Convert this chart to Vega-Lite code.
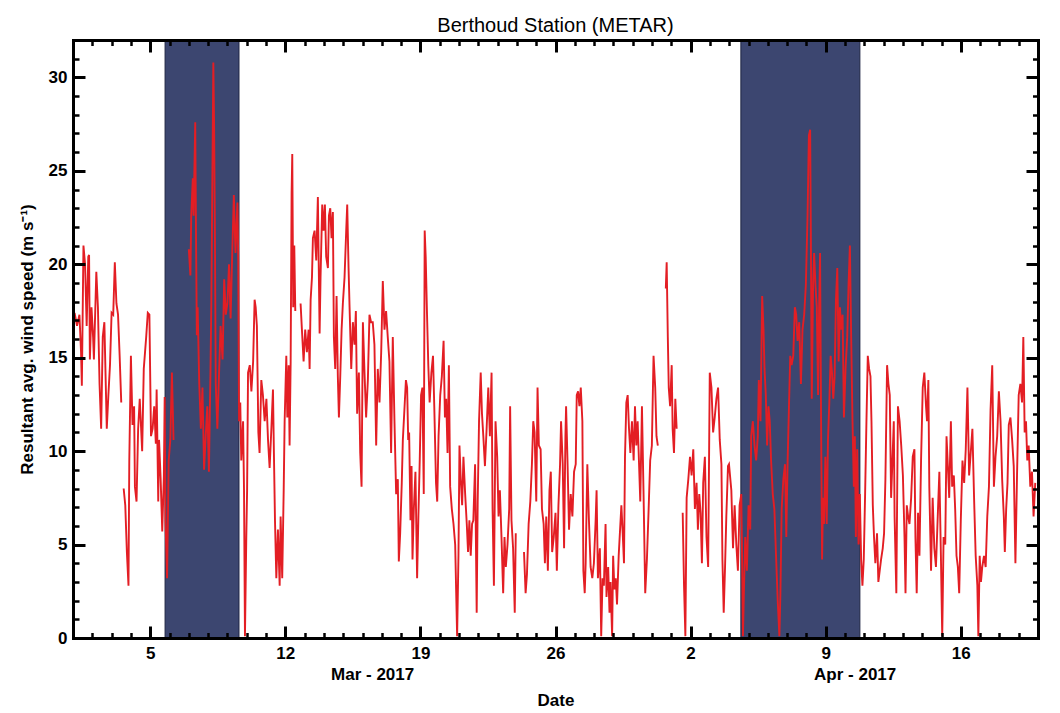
{
"$schema": "https://vega.github.io/schema/vega-lite/v6.json",
"width": 965, "height": 598,
"autosize": {"type": "none"},
"padding": {"left": 73, "top": 40, "right": 22, "bottom": 75},
"background": "white",
"title": {"text": "Berthoud Station (METAR)", "font": "Liberation Sans", "fontSize": 20, "fontWeight": "normal", "color": "black", "offset": 3},
"config": {"view": {"stroke": null}, "axis": {"labelFont": "Liberation Sans", "titleFont": "Liberation Sans", "labelColor": "black", "titleColor": "black", "tickColor": "black", "domainColor": "black", "grid": false}},
"resolve": {"axis": {"x": "independent", "y": "independent"}},
"datasets": {
"shade": [{"start": "2017-03-05T18:30", "end": "2017-03-09T14:25"}, {"start": "2017-04-04T14:30", "end": "2017-04-10T18:30"}],
"wind": [
{"t":"2017-03-01T02:00","v":17.4},{"t":"2017-03-01T05:00","v":16.7},{"t":"2017-03-01T08:00","v":17.3},{"t":"2017-03-01T10:00","v":15.3},{"t":"2017-03-01T11:00","v":13.5},{"t":"2017-03-01T13:00","v":21.0},{"t":"2017-03-01T15:00","v":20.0},{"t":"2017-03-01T17:00","v":16.7},{"t":"2017-03-01T19:00","v":20.4},{"t":"2017-03-01T20:00","v":20.5},{"t":"2017-03-01T21:00","v":14.9},{"t":"2017-03-01T23:00","v":17.7},
{"t":"2017-03-02T01:00","v":16.1},{"t":"2017-03-02T02:00","v":14.9},{"t":"2017-03-02T05:00","v":19.6},{"t":"2017-03-02T07:00","v":17.7},{"t":"2017-03-02T09:00","v":13.6},{"t":"2017-03-02T11:00","v":11.2},{"t":"2017-03-02T13:00","v":16.1},{"t":"2017-03-02T15:00","v":16.9},{"t":"2017-03-02T18:00","v":11.2},{"t":"2017-03-02T20:00","v":13.0},{"t":"2017-03-02T22:00","v":14.6},
{"t":"2017-03-03T00:00","v":17.4},{"t":"2017-03-03T02:00","v":17.3},{"t":"2017-03-03T04:00","v":20.1},{"t":"2017-03-03T06:00","v":17.9},{"t":"2017-03-03T08:00","v":17.3},{"t":"2017-03-03T10:00","v":15.1},{"t":"2017-03-03T12:00","v":12.6},{"t":"2017-03-03T13:30","v":null},{"t":"2017-03-03T15:00","v":8.0},{"t":"2017-03-03T17:00","v":7.1},{"t":"2017-03-03T19:00","v":4.6},{"t":"2017-03-03T21:00","v":2.8},{"t":"2017-03-03T22:00","v":9.5},
{"t":"2017-03-04T00:00","v":15.1},{"t":"2017-03-04T02:00","v":11.4},{"t":"2017-03-04T04:00","v":12.4},{"t":"2017-03-04T05:00","v":8.1},{"t":"2017-03-04T07:00","v":7.3},{"t":"2017-03-04T09:00","v":11.2},{"t":"2017-03-04T11:00","v":12.8},{"t":"2017-03-04T14:00","v":10.0},{"t":"2017-03-04T16:00","v":14.4},{"t":"2017-03-04T19:00","v":16.1},{"t":"2017-03-04T21:00","v":17.4},{"t":"2017-03-04T23:00","v":17.3},
{"t":"2017-03-05T01:00","v":10.8},{"t":"2017-03-05T03:00","v":11.2},{"t":"2017-03-05T05:00","v":12.4},{"t":"2017-03-05T07:00","v":10.4},{"t":"2017-03-05T08:00","v":13.3},{"t":"2017-03-05T10:00","v":7.3},{"t":"2017-03-05T11:00","v":10.6},{"t":"2017-03-05T13:00","v":8.5},{"t":"2017-03-05T15:00","v":5.7},{"t":"2017-03-05T17:00","v":8.7},{"t":"2017-03-05T18:00","v":12.9},{"t":"2017-03-05T19:00","v":6.3},{"t":"2017-03-05T21:00","v":3.2},{"t":"2017-03-05T23:00","v":9.5},
{"t":"2017-03-06T01:00","v":10.6},{"t":"2017-03-06T03:00","v":14.2},{"t":"2017-03-06T05:00","v":10.6},{"t":"2017-03-06T12:00","v":null},
{"t":"2017-03-07T00:00","v":20.8},{"t":"2017-03-07T02:00","v":19.4},{"t":"2017-03-07T03:00","v":22.6},{"t":"2017-03-07T05:00","v":24.6},{"t":"2017-03-07T06:00","v":22.6},{"t":"2017-03-07T08:00","v":27.6},{"t":"2017-03-07T09:00","v":21.4},{"t":"2017-03-07T10:00","v":16.2},{"t":"2017-03-07T11:00","v":17.7},{"t":"2017-03-07T13:00","v":13.6},{"t":"2017-03-07T15:00","v":11.2},{"t":"2017-03-07T17:00","v":13.4},{"t":"2017-03-07T19:00","v":9.0},{"t":"2017-03-07T21:00","v":10.8},{"t":"2017-03-07T23:00","v":12.4},
{"t":"2017-03-08T01:00","v":8.9},{"t":"2017-03-08T03:00","v":14.4},{"t":"2017-03-08T04:00","v":17.9},{"t":"2017-03-08T06:30","v":30.8},{"t":"2017-03-08T07:30","v":27.3},{"t":"2017-03-08T08:30","v":21.4},{"t":"2017-03-08T09:30","v":13.6},{"t":"2017-03-08T11:30","v":11.2},{"t":"2017-03-08T13:30","v":14.0},{"t":"2017-03-08T15:30","v":16.7},{"t":"2017-03-08T18:00","v":14.9},{"t":"2017-03-08T20:00","v":19.2},{"t":"2017-03-08T22:00","v":17.3},
{"t":"2017-03-09T00:00","v":17.9},{"t":"2017-03-09T02:00","v":20.0},{"t":"2017-03-09T04:00","v":17.1},{"t":"2017-03-09T06:00","v":20.6},{"t":"2017-03-09T08:00","v":23.7},{"t":"2017-03-09T10:00","v":20.6},{"t":"2017-03-09T12:30","v":23.3},{"t":"2017-03-09T13:30","v":20.2},{"t":"2017-03-09T14:30","v":11.6},{"t":"2017-03-09T16:00","v":12.6},{"t":"2017-03-09T17:15","v":9.5},{"t":"2017-03-09T19:30","v":11.6},{"t":"2017-03-09T20:40","v":7.9},{"t":"2017-03-09T21:50","v":0.1},{"t":"2017-03-09T23:30","v":5.4},
{"t":"2017-03-10T00:30","v":7.9},{"t":"2017-03-10T01:40","v":14.2},{"t":"2017-03-10T03:50","v":14.6},{"t":"2017-03-10T05:50","v":13.2},{"t":"2017-03-10T08:00","v":14.8},{"t":"2017-03-10T09:50","v":18.1},{"t":"2017-03-10T11:10","v":17.7},{"t":"2017-03-10T12:40","v":16.7},{"t":"2017-03-10T14:30","v":11.0},{"t":"2017-03-10T16:00","v":9.9},{"t":"2017-03-10T18:10","v":13.8},{"t":"2017-03-10T20:10","v":13.0},{"t":"2017-03-10T22:20","v":11.6},
{"t":"2017-03-11T00:30","v":12.8},{"t":"2017-03-11T02:30","v":10.6},{"t":"2017-03-11T04:30","v":9.1},{"t":"2017-03-11T06:40","v":11.2},{"t":"2017-03-11T08:40","v":13.3},{"t":"2017-03-11T09:50","v":9.9},{"t":"2017-03-11T11:10","v":6.3},{"t":"2017-03-11T12:50","v":3.2},{"t":"2017-03-11T14:50","v":5.8},{"t":"2017-03-11T17:00","v":2.8},{"t":"2017-03-11T18:10","v":6.5},{"t":"2017-03-11T20:10","v":3.2},{"t":"2017-03-11T22:00","v":7.9},{"t":"2017-03-11T23:10","v":11.6},
{"t":"2017-03-12T01:15","v":15.1},{"t":"2017-03-12T02:30","v":11.8},{"t":"2017-03-12T04:10","v":14.6},{"t":"2017-03-12T05:20","v":10.3},{"t":"2017-03-12T06:40","v":14.8},{"t":"2017-03-12T07:50","v":23.8},{"t":"2017-03-12T08:40","v":25.9},{"t":"2017-03-12T09:50","v":17.7},{"t":"2017-03-12T11:10","v":21.0},{"t":"2017-03-12T12:25","v":17.5},{"t":"2017-03-12T13:30","v":null},{"t":"2017-03-12T19:00","v":17.9},{"t":"2017-03-12T20:40","v":16.5},{"t":"2017-03-12T22:45","v":14.8},
{"t":"2017-03-13T00:45","v":16.5},{"t":"2017-03-13T02:50","v":15.3},{"t":"2017-03-13T05:00","v":16.5},{"t":"2017-03-13T06:15","v":14.4},{"t":"2017-03-13T07:30","v":18.1},{"t":"2017-03-13T09:10","v":19.3},{"t":"2017-03-13T10:20","v":21.4},{"t":"2017-03-13T12:25","v":21.8},{"t":"2017-03-13T14:30","v":20.2},{"t":"2017-03-13T16:30","v":23.6},{"t":"2017-03-13T18:40","v":16.3},{"t":"2017-03-13T19:50","v":19.3},{"t":"2017-03-13T21:55","v":23.2},{"t":"2017-03-13T23:35","v":21.8},
{"t":"2017-03-14T01:15","v":23.2},{"t":"2017-03-14T02:50","v":20.4},{"t":"2017-03-14T05:00","v":19.8},{"t":"2017-03-14T06:15","v":22.6},{"t":"2017-03-14T07:55","v":23.0},{"t":"2017-03-14T09:30","v":21.4},{"t":"2017-03-14T11:10","v":22.8},{"t":"2017-03-14T12:25","v":16.1},{"t":"2017-03-14T14:05","v":14.4},{"t":"2017-03-14T15:45","v":18.3},{"t":"2017-03-14T17:20","v":14.0},{"t":"2017-03-14T18:40","v":11.8},{"t":"2017-03-14T20:20","v":14.0},{"t":"2017-03-14T22:00","v":16.5},{"t":"2017-03-14T23:35","v":17.9},
{"t":"2017-03-15T01:40","v":19.3},{"t":"2017-03-15T03:45","v":21.8},{"t":"2017-03-15T05:00","v":23.2},{"t":"2017-03-15T06:40","v":19.8},{"t":"2017-03-15T07:55","v":17.7},{"t":"2017-03-15T10:00","v":14.4},{"t":"2017-03-15T12:00","v":16.9},{"t":"2017-03-15T14:05","v":15.7},{"t":"2017-03-15T15:45","v":17.5},{"t":"2017-03-15T17:20","v":12.0},{"t":"2017-03-15T19:30","v":14.2},{"t":"2017-03-15T21:10","v":9.9},{"t":"2017-03-15T22:50","v":8.1},
{"t":"2017-03-16T00:30","v":16.9},{"t":"2017-03-16T02:30","v":14.2},{"t":"2017-03-16T04:30","v":11.8},{"t":"2017-03-16T06:40","v":13.8},{"t":"2017-03-16T08:40","v":17.3},{"t":"2017-03-16T10:40","v":16.9},{"t":"2017-03-16T12:45","v":16.9},{"t":"2017-03-16T14:50","v":15.7},{"t":"2017-03-16T17:00","v":10.3},{"t":"2017-03-16T19:00","v":14.4},{"t":"2017-03-16T21:10","v":12.6},{"t":"2017-03-16T23:15","v":15.3},
{"t":"2017-03-17T01:15","v":19.1},{"t":"2017-03-17T03:20","v":16.5},{"t":"2017-03-17T05:20","v":17.5},{"t":"2017-03-17T07:25","v":16.1},{"t":"2017-03-17T09:30","v":14.8},{"t":"2017-03-17T11:35","v":9.9},{"t":"2017-03-17T13:40","v":16.1},{"t":"2017-03-17T15:45","v":11.6},{"t":"2017-03-17T17:50","v":7.7},{"t":"2017-03-17T19:55","v":8.5},{"t":"2017-03-17T21:10","v":4.1},{"t":"2017-03-17T22:50","v":5.6},
{"t":"2017-03-18T00:50","v":8.3},{"t":"2017-03-18T02:10","v":10.6},{"t":"2017-03-18T04:20","v":12.4},{"t":"2017-03-18T06:00","v":13.8},{"t":"2017-03-18T07:30","v":13.4},{"t":"2017-03-18T08:50","v":10.6},{"t":"2017-03-18T10:00","v":11.0},{"t":"2017-03-18T11:40","v":6.3},{"t":"2017-03-18T13:00","v":9.2},{"t":"2017-03-18T14:10","v":4.2},{"t":"2017-03-18T15:50","v":6.9},{"t":"2017-03-18T17:50","v":8.9},{"t":"2017-03-18T19:55","v":3.2},{"t":"2017-03-18T21:30","v":6.5},{"t":"2017-03-18T23:10","v":9.5},
{"t":"2017-03-19T00:50","v":13.0},{"t":"2017-03-19T02:30","v":13.4},{"t":"2017-03-19T04:10","v":7.7},{"t":"2017-03-19T05:20","v":21.8},{"t":"2017-03-19T06:35","v":20.4},{"t":"2017-03-19T08:15","v":17.3},{"t":"2017-03-19T09:50","v":14.6},{"t":"2017-03-19T11:30","v":12.6},{"t":"2017-03-19T13:40","v":14.2},{"t":"2017-03-19T15:40","v":15.1},{"t":"2017-03-19T17:15","v":12.4},{"t":"2017-03-19T19:25","v":8.3},{"t":"2017-03-19T20:55","v":7.3},{"t":"2017-03-19T22:35","v":10.8},
{"t":"2017-03-20T00:40","v":13.0},{"t":"2017-03-20T02:40","v":14.0},{"t":"2017-03-20T04:50","v":15.9},{"t":"2017-03-20T06:30","v":11.8},{"t":"2017-03-20T08:05","v":12.8},{"t":"2017-03-20T09:45","v":9.9},{"t":"2017-03-20T11:25","v":14.6},{"t":"2017-03-20T13:00","v":8.1},{"t":"2017-03-20T15:05","v":6.9},{"t":"2017-03-20T17:10","v":6.1},{"t":"2017-03-20T19:15","v":5.0},{"t":"2017-03-20T20:25","v":2.6},{"t":"2017-03-20T21:40","v":0.1},{"t":"2017-03-20T23:20","v":4.4},
{"t":"2017-03-21T00:35","v":10.3},{"t":"2017-03-21T02:10","v":8.5},{"t":"2017-03-21T03:55","v":7.1},{"t":"2017-03-21T05:30","v":9.7},{"t":"2017-03-21T07:40","v":7.7},{"t":"2017-03-21T09:40","v":6.1},{"t":"2017-03-21T11:15","v":4.6},{"t":"2017-03-21T12:55","v":6.3},{"t":"2017-03-21T14:35","v":4.4},{"t":"2017-03-21T16:15","v":6.1},{"t":"2017-03-21T17:50","v":6.3},{"t":"2017-03-21T20:00","v":9.3},{"t":"2017-03-21T22:00","v":1.35},{"t":"2017-03-21T23:15","v":7.3},
{"t":"2017-03-22T00:55","v":11.6},{"t":"2017-03-22T03:00","v":14.2},{"t":"2017-03-22T04:35","v":12.0},{"t":"2017-03-22T06:15","v":10.8},{"t":"2017-03-22T08:15","v":9.2},{"t":"2017-03-22T10:20","v":11.2},{"t":"2017-03-22T12:25","v":13.4},{"t":"2017-03-22T14:25","v":10.8},{"t":"2017-03-22T16:30","v":14.2},{"t":"2017-03-22T17:45","v":6.9},{"t":"2017-03-22T19:25","v":2.8},{"t":"2017-03-22T21:25","v":11.6},{"t":"2017-03-22T23:30","v":9.7},
{"t":"2017-03-23T01:10","v":6.5},{"t":"2017-03-23T02:50","v":7.9},{"t":"2017-03-23T04:50","v":5.4},{"t":"2017-03-23T06:55","v":2.4},{"t":"2017-03-23T08:35","v":5.4},{"t":"2017-03-23T10:15","v":3.8},{"t":"2017-03-23T12:20","v":5.0},{"t":"2017-03-23T14:25","v":6.9},{"t":"2017-03-23T15:35","v":12.4},{"t":"2017-03-23T17:15","v":6.3},{"t":"2017-03-23T19:15","v":4.8},{"t":"2017-03-23T21:20","v":1.35},{"t":"2017-03-23T22:35","v":5.6},{"t":"2017-03-23T23:30","v":null},
{"t":"2017-03-24T08:50","v":4.6},{"t":"2017-03-24T10:50","v":2.4},{"t":"2017-03-24T12:30","v":3.4},{"t":"2017-03-24T14:35","v":6.1},{"t":"2017-03-24T16:40","v":7.3},{"t":"2017-03-24T18:40","v":9.3},{"t":"2017-03-24T20:20","v":11.6},{"t":"2017-03-24T22:00","v":11.0},
{"t":"2017-03-25T00:05","v":7.3},{"t":"2017-03-25T01:40","v":13.4},{"t":"2017-03-25T03:20","v":10.3},{"t":"2017-03-25T05:30","v":10.1},{"t":"2017-03-25T07:10","v":6.9},{"t":"2017-03-25T09:15","v":6.1},{"t":"2017-03-25T10:50","v":4.0},{"t":"2017-03-25T12:30","v":6.5},{"t":"2017-03-25T14:30","v":3.6},{"t":"2017-03-25T16:30","v":7.9},{"t":"2017-03-25T18:10","v":8.9},{"t":"2017-03-25T19:50","v":4.6},{"t":"2017-03-25T21:50","v":5.4},
{"t":"2017-03-26T00:00","v":6.7},{"t":"2017-03-26T01:40","v":3.6},{"t":"2017-03-26T03:40","v":7.1},{"t":"2017-03-26T05:40","v":9.3},{"t":"2017-03-26T06:55","v":11.6},{"t":"2017-03-26T09:00","v":9.3},{"t":"2017-03-26T10:40","v":4.8},{"t":"2017-03-26T12:20","v":10.8},{"t":"2017-03-26T13:10","v":12.4},{"t":"2017-03-26T14:55","v":9.5},{"t":"2017-03-26T16:50","v":5.8},{"t":"2017-03-26T18:55","v":7.7},{"t":"2017-03-26T21:00","v":6.5},{"t":"2017-03-26T23:05","v":8.9},
{"t":"2017-03-27T01:10","v":9.3},{"t":"2017-03-27T02:25","v":13.0},{"t":"2017-03-27T04:05","v":13.2},{"t":"2017-03-27T05:45","v":12.4},{"t":"2017-03-27T07:25","v":13.4},{"t":"2017-03-27T09:25","v":11.6},{"t":"2017-03-27T10:40","v":3.6},{"t":"2017-03-27T12:20","v":2.4},{"t":"2017-03-27T13:30","v":4.0},{"t":"2017-03-27T15:35","v":9.3},{"t":"2017-03-27T17:35","v":6.3},{"t":"2017-03-27T19:40","v":3.8},{"t":"2017-03-27T21:45","v":3.2},{"t":"2017-03-27T23:45","v":4.0},
{"t":"2017-03-28T01:55","v":6.3},{"t":"2017-03-28T03:05","v":7.9},{"t":"2017-03-28T04:45","v":3.2},{"t":"2017-03-28T07:10","v":4.8},{"t":"2017-03-28T08:50","v":0.1},{"t":"2017-03-28T10:30","v":3.2},{"t":"2017-03-28T12:10","v":2.8},{"t":"2017-03-28T14:15","v":6.1},{"t":"2017-03-28T15:25","v":2.2},{"t":"2017-03-28T17:30","v":3.8},{"t":"2017-03-28T19:10","v":1.35},{"t":"2017-03-28T20:25","v":3.0},{"t":"2017-03-28T22:25","v":0.1},{"t":"2017-03-28T23:40","v":4.4},
{"t":"2017-03-29T01:15","v":2.6},{"t":"2017-03-29T02:55","v":3.2},{"t":"2017-03-29T04:30","v":1.8},{"t":"2017-03-29T06:35","v":4.4},{"t":"2017-03-29T08:40","v":6.1},{"t":"2017-03-29T09:55","v":7.1},{"t":"2017-03-29T11:35","v":5.6},{"t":"2017-03-29T13:10","v":4.0},{"t":"2017-03-29T14:25","v":9.7},{"t":"2017-03-29T16:05","v":12.6},{"t":"2017-03-29T17:45","v":13.0},{"t":"2017-03-29T19:25","v":11.2},{"t":"2017-03-29T21:05","v":9.9},{"t":"2017-03-29T23:05","v":11.6},
{"t":"2017-03-30T01:10","v":9.5},{"t":"2017-03-30T02:50","v":12.4},{"t":"2017-03-30T04:30","v":10.3},{"t":"2017-03-30T06:10","v":11.6},{"t":"2017-03-30T07:45","v":9.5},{"t":"2017-03-30T09:25","v":7.3},{"t":"2017-03-30T11:30","v":12.4},{"t":"2017-03-30T13:25","v":7.9},{"t":"2017-03-30T15:35","v":2.4},{"t":"2017-03-30T17:40","v":4.2},{"t":"2017-03-30T19:40","v":6.7},{"t":"2017-03-30T21:45","v":9.5},{"t":"2017-03-30T23:50","v":10.3},
{"t":"2017-03-31T01:55","v":15.1},{"t":"2017-03-31T04:00","v":13.4},{"t":"2017-03-31T05:35","v":10.8},{"t":"2017-03-31T07:15","v":10.3},{"t":"2017-03-31T10:00","v":null},{"t":"2017-03-31T17:10","v":18.7},{"t":"2017-03-31T18:15","v":20.1},{"t":"2017-03-31T19:40","v":16.1},{"t":"2017-03-31T20:50","v":13.4},{"t":"2017-03-31T22:30","v":12.4},
{"t":"2017-04-01T00:30","v":14.6},{"t":"2017-04-01T01:40","v":11.2},{"t":"2017-04-01T03:20","v":9.9},{"t":"2017-04-01T05:00","v":12.8},{"t":"2017-04-01T06:40","v":11.2},{"t":"2017-04-01T09:00","v":null},{"t":"2017-04-01T14:10","v":6.7},{"t":"2017-04-01T15:50","v":2.8},{"t":"2017-04-01T17:30","v":0.1},{"t":"2017-04-01T19:05","v":7.5},{"t":"2017-04-01T21:10","v":8.5},{"t":"2017-04-01T23:15","v":9.7},
{"t":"2017-04-02T01:15","v":8.7},{"t":"2017-04-02T03:20","v":10.1},{"t":"2017-04-02T05:20","v":6.9},{"t":"2017-04-02T07:25","v":8.3},{"t":"2017-04-02T09:05","v":5.8},{"t":"2017-04-02T10:45","v":7.7},{"t":"2017-04-02T12:25","v":6.7},{"t":"2017-04-02T14:05","v":4.0},{"t":"2017-04-02T15:40","v":8.3},{"t":"2017-04-02T17:45","v":9.7},{"t":"2017-04-02T19:45","v":5.4},{"t":"2017-04-02T21:50","v":3.8},{"t":"2017-04-02T23:50","v":14.2},
{"t":"2017-04-03T01:55","v":13.4},{"t":"2017-04-03T04:00","v":11.0},{"t":"2017-04-03T06:00","v":11.8},{"t":"2017-04-03T08:05","v":12.8},{"t":"2017-04-03T10:10","v":13.4},{"t":"2017-04-03T12:15","v":10.6},{"t":"2017-04-03T14:20","v":9.3},{"t":"2017-04-03T15:35","v":4.2},{"t":"2017-04-03T17:10","v":1.35},{"t":"2017-04-03T18:50","v":3.8},{"t":"2017-04-03T20:25","v":6.5},{"t":"2017-04-03T22:30","v":9.2},{"t":"2017-04-03T23:45","v":9.3},
{"t":"2017-04-04T02:40","v":7.9},{"t":"2017-04-04T04:45","v":4.8},{"t":"2017-04-04T06:45","v":7.1},{"t":"2017-04-04T08:50","v":5.0},{"t":"2017-04-04T10:50","v":3.6},{"t":"2017-04-04T12:55","v":7.1},{"t":"2017-04-04T15:00","v":7.7},{"t":"2017-04-04T16:15","v":3.4},{"t":"2017-04-04T17:05","v":0.1},{"t":"2017-04-04T18:15","v":2.4},{"t":"2017-04-04T19:55","v":5.4},{"t":"2017-04-04T22:00","v":3.6},
{"t":"2017-04-05T00:05","v":7.1},{"t":"2017-04-05T02:10","v":5.8},{"t":"2017-04-05T03:20","v":10.8},{"t":"2017-04-05T05:25","v":11.6},{"t":"2017-04-05T07:30","v":10.3},{"t":"2017-04-05T09:30","v":9.5},{"t":"2017-04-05T11:35","v":10.8},{"t":"2017-04-05T12:50","v":13.8},{"t":"2017-04-05T14:55","v":11.6},{"t":"2017-04-05T17:00","v":18.3},{"t":"2017-04-05T18:40","v":16.5},{"t":"2017-04-05T19:55","v":14.4},{"t":"2017-04-05T21:30","v":13.0},{"t":"2017-04-05T23:10","v":10.3},
{"t":"2017-04-06T00:50","v":12.4},{"t":"2017-04-06T02:25","v":11.6},{"t":"2017-04-06T04:05","v":9.5},{"t":"2017-04-06T06:10","v":7.7},{"t":"2017-04-06T08:10","v":6.9},{"t":"2017-04-06T10:15","v":4.4},{"t":"2017-04-06T12:20","v":2.0},{"t":"2017-04-06T14:25","v":0.1},{"t":"2017-04-06T15:40","v":2.4},{"t":"2017-04-06T17:15","v":6.9},{"t":"2017-04-06T19:20","v":8.5},{"t":"2017-04-06T21:25","v":9.3},{"t":"2017-04-06T23:00","v":5.4},
{"t":"2017-04-07T00:40","v":9.5},{"t":"2017-04-07T02:20","v":12.4},{"t":"2017-04-07T03:55","v":15.1},{"t":"2017-04-07T05:35","v":14.6},{"t":"2017-04-07T07:40","v":15.1},{"t":"2017-04-07T09:40","v":17.7},{"t":"2017-04-07T11:20","v":17.3},{"t":"2017-04-07T13:00","v":15.9},{"t":"2017-04-07T15:05","v":16.9},{"t":"2017-04-07T17:10","v":13.6},{"t":"2017-04-07T19:10","v":16.5},{"t":"2017-04-07T21:15","v":17.3},{"t":"2017-04-07T23:20","v":18.9},
{"t":"2017-04-08T01:25","v":22.6},{"t":"2017-04-08T03:05","v":26.9},{"t":"2017-04-08T04:40","v":27.2},{"t":"2017-04-08T05:30","v":21.8},{"t":"2017-04-08T06:40","v":12.8},{"t":"2017-04-08T08:20","v":18.9},{"t":"2017-04-08T09:35","v":20.6},{"t":"2017-04-08T11:15","v":18.9},{"t":"2017-04-08T12:55","v":17.7},{"t":"2017-04-08T14:30","v":13.0},{"t":"2017-04-08T15:45","v":17.5},{"t":"2017-04-08T17:00","v":20.6},{"t":"2017-04-08T18:15","v":11.6},{"t":"2017-04-08T19:30","v":4.2},{"t":"2017-04-08T20:40","v":7.5},{"t":"2017-04-08T21:55","v":6.1},{"t":"2017-04-08T23:35","v":9.7},
{"t":"2017-04-09T01:15","v":6.1},{"t":"2017-04-09T02:50","v":10.6},{"t":"2017-04-09T04:30","v":12.6},{"t":"2017-04-09T06:10","v":15.1},{"t":"2017-04-09T07:50","v":14.2},{"t":"2017-04-09T09:25","v":12.8},{"t":"2017-04-09T11:05","v":14.0},{"t":"2017-04-09T12:45","v":18.1},{"t":"2017-04-09T14:25","v":19.8},{"t":"2017-04-09T16:05","v":14.8},{"t":"2017-04-09T17:40","v":17.7},{"t":"2017-04-09T19:20","v":16.5},{"t":"2017-04-09T21:00","v":17.3},{"t":"2017-04-09T22:40","v":11.8},
{"t":"2017-04-10T00:40","v":14.4},{"t":"2017-04-10T02:45","v":16.1},{"t":"2017-04-10T04:25","v":18.9},{"t":"2017-04-10T06:05","v":21.0},{"t":"2017-04-10T07:40","v":16.1},{"t":"2017-04-10T09:20","v":11.6},{"t":"2017-04-10T11:00","v":8.1},{"t":"2017-04-10T12:15","v":10.8},{"t":"2017-04-10T13:30","v":5.4},{"t":"2017-04-10T15:10","v":10.1},{"t":"2017-04-10T16:50","v":5.0},{"t":"2017-04-10T18:25","v":7.7},{"t":"2017-04-10T20:05","v":4.2},{"t":"2017-04-10T21:40","v":2.8},{"t":"2017-04-10T23:20","v":4.2},
{"t":"2017-04-11T01:00","v":7.7},{"t":"2017-04-11T02:40","v":11.6},{"t":"2017-04-11T04:20","v":15.1},{"t":"2017-04-11T06:00","v":14.4},{"t":"2017-04-11T07:40","v":14.0},{"t":"2017-04-11T08:55","v":11.6},{"t":"2017-04-11T10:35","v":7.1},{"t":"2017-04-11T12:05","v":5.4},{"t":"2017-04-11T13:45","v":4.0},{"t":"2017-04-11T15:50","v":5.6},{"t":"2017-04-11T17:30","v":3.0},{"t":"2017-04-11T19:10","v":3.6},{"t":"2017-04-11T20:50","v":4.2},{"t":"2017-04-11T22:55","v":4.8},
{"t":"2017-04-12T00:35","v":5.6},{"t":"2017-04-12T02:15","v":8.5},{"t":"2017-04-12T04:20","v":14.6},{"t":"2017-04-12T06:00","v":13.6},{"t":"2017-04-12T07:40","v":13.0},{"t":"2017-04-12T09:20","v":7.5},{"t":"2017-04-12T11:00","v":9.5},{"t":"2017-04-12T12:40","v":11.6},{"t":"2017-04-12T13:40","v":6.5},{"t":"2017-04-12T15:50","v":2.4},{"t":"2017-04-12T17:50","v":12.4},{"t":"2017-04-12T19:55","v":11.6},{"t":"2017-04-12T21:55","v":10.3},
{"t":"2017-04-13T00:00","v":8.7},{"t":"2017-04-13T02:00","v":5.4},{"t":"2017-04-13T03:15","v":2.4},{"t":"2017-04-13T04:50","v":7.1},{"t":"2017-04-13T06:30","v":6.5},{"t":"2017-04-13T08:10","v":6.1},{"t":"2017-04-13T10:15","v":7.5},{"t":"2017-04-13T12:15","v":9.7},{"t":"2017-04-13T14:20","v":10.1},{"t":"2017-04-13T15:35","v":5.4},{"t":"2017-04-13T17:10","v":2.4},{"t":"2017-04-13T18:50","v":6.7},{"t":"2017-04-13T20:35","v":4.4},{"t":"2017-04-13T22:35","v":9.5},
{"t":"2017-04-14T00:40","v":13.4},{"t":"2017-04-14T02:40","v":14.2},{"t":"2017-04-14T04:45","v":12.4},{"t":"2017-04-14T06:00","v":11.6},{"t":"2017-04-14T07:40","v":13.8},{"t":"2017-04-14T08:50","v":8.1},{"t":"2017-04-14T11:00","v":3.6},{"t":"2017-04-14T13:00","v":7.5},{"t":"2017-04-14T15:05","v":4.8},{"t":"2017-04-14T17:05","v":3.8},{"t":"2017-04-14T19:10","v":6.3},{"t":"2017-04-14T21:20","v":8.9},{"t":"2017-04-14T23:15","v":4.4},
{"t":"2017-04-15T00:55","v":0.1},{"t":"2017-04-15T02:35","v":5.4},{"t":"2017-04-15T04:40","v":5.0},{"t":"2017-04-15T06:15","v":10.8},{"t":"2017-04-15T07:55","v":9.2},{"t":"2017-04-15T09:35","v":7.5},{"t":"2017-04-15T11:40","v":11.6},{"t":"2017-04-15T13:15","v":8.1},{"t":"2017-04-15T15:20","v":8.7},{"t":"2017-04-15T17:00","v":6.9},{"t":"2017-04-15T18:40","v":4.4},{"t":"2017-04-15T20:20","v":3.8},{"t":"2017-04-15T22:00","v":2.4},
{"t":"2017-04-16T00:00","v":6.3},{"t":"2017-04-16T02:05","v":9.5},{"t":"2017-04-16T04:10","v":8.3},{"t":"2017-04-16T06:10","v":10.1},{"t":"2017-04-16T08:15","v":13.4},{"t":"2017-04-16T10:20","v":8.7},{"t":"2017-04-16T12:20","v":9.9},{"t":"2017-04-16T14:25","v":11.2},{"t":"2017-04-16T16:30","v":7.5},{"t":"2017-04-16T18:30","v":4.4},{"t":"2017-04-16T20:35","v":2.8},{"t":"2017-04-16T21:50","v":0.1},{"t":"2017-04-16T23:30","v":4.4},
{"t":"2017-04-17T01:05","v":3.0},{"t":"2017-04-17T02:40","v":3.8},{"t":"2017-04-17T04:50","v":4.4},{"t":"2017-04-17T06:55","v":3.8},{"t":"2017-04-17T08:55","v":6.5},{"t":"2017-04-17T11:00","v":8.1},{"t":"2017-04-17T13:00","v":12.2},{"t":"2017-04-17T15:05","v":14.6},{"t":"2017-04-17T17:10","v":8.1},{"t":"2017-04-17T19:10","v":9.7},{"t":"2017-04-17T21:15","v":10.8},{"t":"2017-04-17T23:20","v":13.2},
{"t":"2017-04-18T01:25","v":11.6},{"t":"2017-04-18T03:25","v":8.5},{"t":"2017-04-18T05:30","v":6.5},{"t":"2017-04-18T06:45","v":4.6},{"t":"2017-04-18T08:25","v":6.9},{"t":"2017-04-18T10:05","v":8.3},{"t":"2017-04-18T11:40","v":11.4},{"t":"2017-04-18T13:45","v":11.8},{"t":"2017-04-18T15:50","v":10.6},{"t":"2017-04-18T17:50","v":9.2},{"t":"2017-04-18T19:55","v":4.0},{"t":"2017-04-18T21:55","v":8.7},
{"t":"2017-04-19T00:00","v":13.0},{"t":"2017-04-19T02:05","v":13.6},{"t":"2017-04-19T04:10","v":12.6},{"t":"2017-04-19T05:45","v":16.1},{"t":"2017-04-19T07:25","v":11.0},{"t":"2017-04-19T09:05","v":11.6},{"t":"2017-04-19T10:40","v":9.5},{"t":"2017-04-19T12:25","v":10.3},{"t":"2017-04-19T14:25","v":8.1},{"t":"2017-04-19T16:30","v":8.9},{"t":"2017-04-19T18:30","v":6.5},{"t":"2017-04-19T20:35","v":8.3}
]
},
"layer": [
{
"data": {"name": "shade"},
"mark": {"type": "rect", "fill": "#3c4670", "stroke": "#1e2442", "strokeWidth": 1, "clip": true},
"encoding": {
"x": {"field": "start", "type": "temporal", "scale": {"domain": [{"year": 2017, "month": 3, "date": 1}, {"year": 2017, "month": 4, "date": 20}]},
"axis": {"orient": "bottom", "values": [{"year": 2017, "month": 3, "date": 5}, {"year": 2017, "month": 3, "date": 12}, {"year": 2017, "month": 3, "date": 19}, {"year": 2017, "month": 3, "date": 26}, {"year": 2017, "month": 4, "date": 2}, {"year": 2017, "month": 4, "date": 9}, {"year": 2017, "month": 4, "date": 16}], "labelExpr": "date(datum.value)", "ticks": false, "domain": false, "labelFontSize": 17, "labelFontWeight": "bold", "labelPadding": 7, "labelFlush": false, "labelOverlap": false, "title": null, "zindex": 1}},
"x2": {"field": "end"},
"y": {"datum": 0, "type": "quantitative", "scale": {"domain": [0, 32], "nice": false, "zero": false},
"axis": {"orient": "left", "values": [0, 5, 10, 15, 20, 25, 30], "ticks": false, "domain": false, "labelFontSize": 17, "labelFontWeight": "bold", "labelPadding": 6, "title": "Resultant avg. wind speed (m s⁻¹)", "titleFontSize": 17, "titleFontWeight": "bold", "titlePadding": 12, "zindex": 1}},
"y2": {"datum": 32}
}
},
{
"data": {"name": "wind"},
"mark": {"type": "line", "color": "#e31e24", "strokeWidth": 1.9, "clip": true},
"encoding": {
"x": {"field": "t", "type": "temporal", "scale": {"domain": [{"year": 2017, "month": 3, "date": 1}, {"year": 2017, "month": 4, "date": 20}]},
"axis": {"orient": "bottom", "values": [{"year": 2017, "month": 3, "date": 16, "hours": 12}, {"year": 2017, "month": 4, "date": 10, "hours": 12}], "labelExpr": "timeFormat(datum.value, '%b - %Y')", "ticks": false, "domain": false, "labelFontSize": 17, "labelFontWeight": "bold", "labelPadding": 28, "labelFlush": false, "labelOverlap": false, "title": "Date", "titleFontSize": 17, "titleFontWeight": "bold", "titlePadding": 10, "zindex": 1}},
"y": {"field": "v", "type": "quantitative", "scale": {"domain": [0, 32], "nice": false, "zero": false},
"axis": {"orient": "left", "values": [0, 5, 10, 15, 20, 25, 30], "labels": false, "tickSize": -12, "tickWidth": 3, "domain": true, "domainWidth": 3, "domainCap": "square", "title": null, "zindex": 1}}
}
},
{
"data": {"name": "shade"},
"mark": {"type": "point", "opacity": 0},
"encoding": {
"x": {"field": "start", "type": "temporal", "scale": {"domain": [{"year": 2017, "month": 3, "date": 1}, {"year": 2017, "month": 4, "date": 20}]},
"axis": {"orient": "bottom", "values": [{"year": 2017, "month": 3, "date": 5}, {"year": 2017, "month": 3, "date": 12}, {"year": 2017, "month": 3, "date": 19}, {"year": 2017, "month": 3, "date": 26}, {"year": 2017, "month": 4, "date": 2}, {"year": 2017, "month": 4, "date": 9}, {"year": 2017, "month": 4, "date": 16}], "labels": false, "tickSize": -12, "tickWidth": 3, "domain": true, "domainWidth": 3, "domainCap": "square", "title": null, "zindex": 1}},
"y": {"datum": 0, "type": "quantitative", "scale": {"domain": [0, 32], "nice": false, "zero": false},
"axis": {"orient": "left", "values": [0,1,2,3,4,5,6,7,8,9,10,11,12,13,14,15,16,17,18,19,20,21,22,23,24,25,26,27,28,29,30,31,32], "labels": false, "tickSize": -6, "tickWidth": 2.5, "domain": false, "title": null, "zindex": 1}}
}
},
{
"data": {"name": "shade"},
"mark": {"type": "point", "opacity": 0},
"encoding": {
"x": {"field": "start", "type": "temporal", "scale": {"domain": [{"year": 2017, "month": 3, "date": 1}, {"year": 2017, "month": 4, "date": 20}]},
"axis": {"orient": "bottom", "tickCount": {"interval": "day", "step": 1}, "labels": false, "tickSize": -5.5, "tickWidth": 2.5, "domain": false, "title": null, "zindex": 1}},
"y": {"datum": 0, "type": "quantitative", "scale": {"domain": [0, 32], "nice": false, "zero": false},
"axis": {"orient": "right", "values": [0, 5, 10, 15, 20, 25, 30], "labels": false, "tickSize": -12, "tickWidth": 3, "domain": true, "domainWidth": 3, "domainCap": "square", "title": null, "zindex": 1}}
}
},
{
"data": {"name": "shade"},
"mark": {"type": "point", "opacity": 0},
"encoding": {
"x": {"field": "start", "type": "temporal", "scale": {"domain": [{"year": 2017, "month": 3, "date": 1}, {"year": 2017, "month": 4, "date": 20}]},
"axis": {"orient": "top", "values": [{"year": 2017, "month": 3, "date": 5}, {"year": 2017, "month": 3, "date": 12}, {"year": 2017, "month": 3, "date": 19}, {"year": 2017, "month": 3, "date": 26}, {"year": 2017, "month": 4, "date": 2}, {"year": 2017, "month": 4, "date": 9}, {"year": 2017, "month": 4, "date": 16}], "labels": false, "tickSize": -12, "tickWidth": 3, "domain": true, "domainWidth": 3, "domainCap": "square", "title": null, "zindex": 1}},
"y": {"datum": 0, "type": "quantitative", "scale": {"domain": [0, 32], "nice": false, "zero": false},
"axis": {"orient": "right", "values": [0,1,2,3,4,5,6,7,8,9,10,11,12,13,14,15,16,17,18,19,20,21,22,23,24,25,26,27,28,29,30,31,32], "labels": false, "tickSize": -5.5, "tickWidth": 2.5, "domain": false, "title": null, "zindex": 1}}
}
},
{
"data": {"name": "shade"},
"mark": {"type": "point", "opacity": 0},
"encoding": {
"x": {"field": "start", "type": "temporal", "scale": {"domain": [{"year": 2017, "month": 3, "date": 1}, {"year": 2017, "month": 4, "date": 20}]},
"axis": {"orient": "top", "tickCount": {"interval": "day", "step": 1}, "labels": false, "tickSize": -5.5, "tickWidth": 2.5, "domain": false, "title": null, "zindex": 1}},
"y": {"datum": 0, "type": "quantitative", "scale": {"domain": [0, 32], "nice": false, "zero": false}, "axis": null}
}
}
]
}
